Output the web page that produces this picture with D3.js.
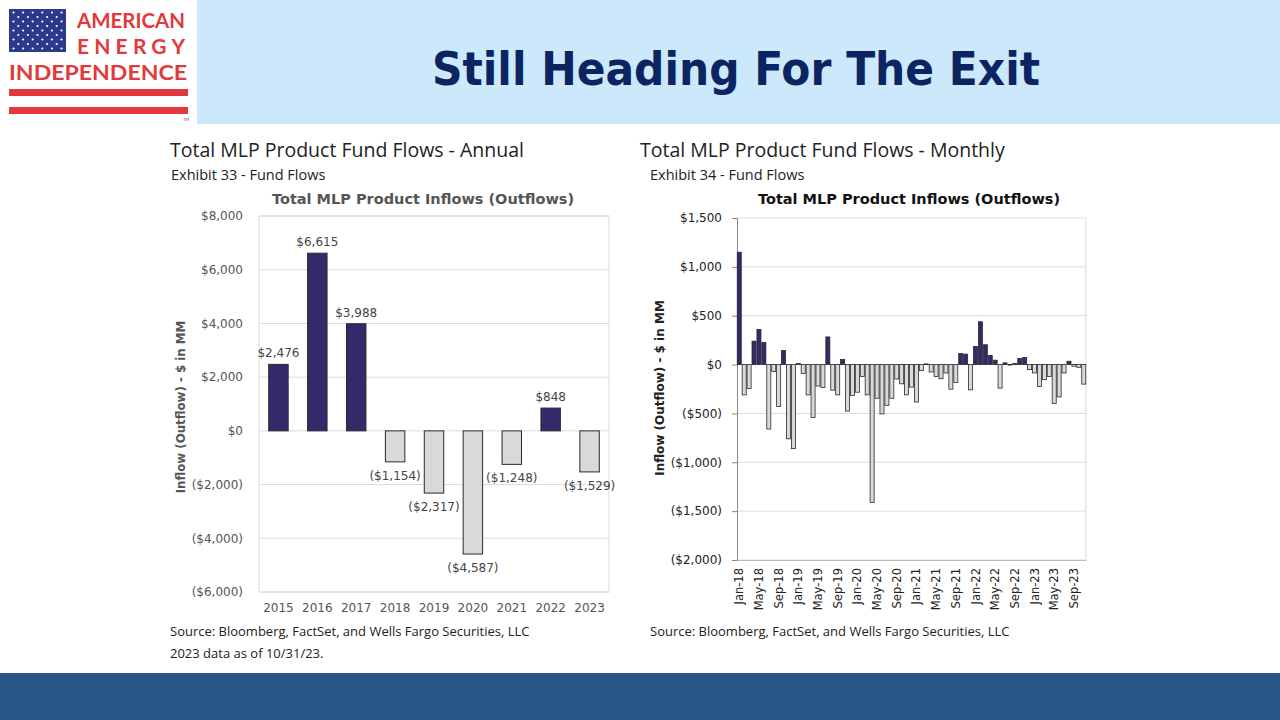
<!DOCTYPE html>
<html><head><meta charset="utf-8">
<script src="https://cdn.jsdelivr.net/npm/d3@7/dist/d3.min.js"></script>
<style>
html,body{margin:0;padding:0;background:#fff;}
svg{display:block;}
</style></head>
<body>
<svg id="chart" width="1280" height="720"></svg>
<script>
// ---------- DATA ----------
const years = ["2015","2016","2017","2018","2019","2020","2021","2022","2023"];
const annualFlows = [2476, 6615, 3988, -1154, -2317, -4587, -1248, 848, -1529];
const annualTicks = [-6000, -4000, -2000, 0, 2000, 4000, 6000, 8000];

const monthStart = new Date(2018, 0, 1);
const monthlyFlows = [
  1150, -310, -245, 240, 360, 225, -660, -70, -430, 145, -760, -860,
  10, -90, -310, -540, -220, -235, 283, -262, -310, 52, -476, -317,
  -283, -121, -310, -1410, -345, -505, -417, -345, -148, -197, -310, -231,
  -383, -62, 7, -76, -121, -145, -86, -252, -183, 114, 107, -259,
  186, 438, 203, 93, 45, -241, 17, -5, 10, 62, 72, -52,
  -86, -224, -155, -121, -397, -331, -86, 34, -17, -28, -200
];
const monthlyTicks = [-2000, -1500, -1000, -500, 0, 500, 1000, 1500];
const monthTickLabels = ["Jan-18","May-18","Sep-18","Jan-19","May-19","Sep-19","Jan-20","May-20","Sep-20",
  "Jan-21","May-21","Sep-21","Jan-22","May-22","Sep-22","Jan-23","May-23","Sep-23"];

// ---------- STYLE ----------
const NAVY = "#33296b", GREYBAR = "#d9d9d9", OUTLINE = "#2a2a2a", GRID = "#dcdcdc";
const fmtMoney = v => v < 0 ? "($" + d3.format(",")(-v) + ")" : "$" + d3.format(",")(v);

const svg = d3.select("#chart");

// ---------- HEADER ----------
svg.append("rect").attr("x", 197).attr("y", 0).attr("width", 1083).attr("height", 124).attr("fill", "#cce9fc");
svg.append("rect").attr("x", 0).attr("y", 673).attr("width", 1280).attr("height", 47).attr("fill", "#285686");
svg.append("text").attr("x", 736).attr("y", 85).attr("text-anchor", "middle")
  .attr("font-family", "DejaVu Sans Condensed, DejaVu Sans").attr("font-weight", "bold")
  .attr("font-size", 47).attr("fill", "#0c2461")
  .attr("textLength", 608).attr("lengthAdjust", "spacingAndGlyphs")
  .text("Still Heading For The Exit");

// logo
const logo = svg.append("g");
logo.append("rect").attr("x", 9).attr("y", 9).attr("width", 57).attr("height", 43).attr("fill", "#2c3a8e");
for (let r = 0; r < 9; r++) {
  const n = r % 2 === 0 ? 6 : 5;
  for (let c = 0; c < n; c++) {
    logo.append("circle")
      .attr("cx", 13.5 + c * 9.6 + (r % 2 ? 4.8 : 0))
      .attr("cy", 12.5 + r * 4.5).attr("r", 1.1).attr("fill", "#fff");
  }
}
const RED = "#e1393e";
logo.append("text").attr("x", 77).attr("y", 28).attr("font-family", "Lato").attr("font-weight", "bold")
  .attr("font-size", 21).attr("fill", RED).attr("textLength", 108).attr("lengthAdjust", "spacingAndGlyphs").text("AMERICAN");
logo.append("text").attr("x", 77).attr("y", 54).attr("font-family", "Lato").attr("font-weight", "bold")
  .attr("font-size", 21).attr("fill", RED).attr("textLength", 108).attr("lengthAdjust", "spacing").text("ENERGY");
logo.append("text").attr("x", 9).attr("y", 80).attr("font-family", "Lato").attr("font-weight", "bold")
  .attr("font-size", 21).attr("fill", RED).attr("textLength", 178).attr("lengthAdjust", "spacingAndGlyphs").text("INDEPENDENCE");
logo.append("rect").attr("x", 9).attr("y", 89).attr("width", 179).attr("height", 7).attr("fill", RED);
logo.append("rect").attr("x", 9).attr("y", 107).attr("width", 179).attr("height", 7).attr("fill", RED);
logo.append("text").attr("x", 183).attr("y", 121).attr("font-family", "Lato").attr("font-size", 4).attr("fill", "#555").text("TM");

// ---------- TEXT BLOCKS ----------
function txt(x, y, s, size, color, opts = {}) {
  return svg.append("text").attr("x", x).attr("y", y)
    .attr("font-family", opts.family || "Open Sans")
    .attr("font-size", size).attr("fill", color)
    .attr("font-weight", opts.weight || "normal")
    .attr("text-anchor", opts.anchor || "start").text(s);
}
txt(170, 157, "Total MLP Product Fund Flows - Annual", 19.5, "#222");
txt(171, 180, "Exhibit 33 - Fund Flows", 14.5, "#222");
txt(640, 157, "Total MLP Product Fund Flows - Monthly", 19.5, "#222");
txt(650, 180, "Exhibit 34 - Fund Flows", 14.5, "#222");
txt(170, 636, "Source: Bloomberg, FactSet, and Wells Fargo Securities, LLC", 13, "#222");
txt(170, 658, "2023 data as of 10/31/23.", 13, "#222");
txt(650, 636, "Source: Bloomberg, FactSet, and Wells Fargo Securities, LLC", 13, "#222");

// ---------- ANNUAL CHART ----------
(function () {
  const L = 259, R = 609, T = 216, B = 592;
  const x = d3.scaleBand().domain(years).range([L, R]).paddingInner(0.5).paddingOuter(0.25);
  const y = d3.scaleLinear().domain([-6000, 8000]).range([B, T]);
  const g = svg.append("g");

  g.append("g").selectAll("line").data(annualTicks).join("line")
    .attr("x1", L).attr("x2", R).attr("y1", d => y(d)).attr("y2", d => y(d))
    .attr("stroke", GRID).attr("stroke-width", 1);
  g.append("rect").attr("x", L).attr("y", T).attr("width", R - L).attr("height", B - T)
    .attr("fill", "none").attr("stroke", GRID);

  const yAxis = d3.axisLeft(y).tickValues(annualTicks).tickSize(0).tickPadding(16).tickFormat(fmtMoney);
  const ya = g.append("g").attr("transform", `translate(${L},0)`).call(yAxis);
  ya.select(".domain").remove();
  ya.selectAll("text").attr("font-family", "DejaVu Sans").attr("font-size", 12).attr("fill", "#555");

  const xAxis = d3.axisBottom(x).tickSize(0).tickPadding(11);
  const xa = g.append("g").attr("transform", `translate(0,${B})`).call(xAxis);
  xa.select(".domain").remove();
  xa.selectAll("text").attr("font-family", "DejaVu Sans").attr("font-size", 12).attr("fill", "#555");

  g.selectAll("rect.bar").data(annualFlows).join("rect").attr("class", "bar")
    .attr("x", (d, i) => x(years[i])).attr("width", x.bandwidth())
    .attr("y", d => y(Math.max(0, d))).attr("height", d => Math.abs(y(d) - y(0)))
    .attr("fill", d => d >= 0 ? NAVY : GREYBAR).attr("stroke", OUTLINE).attr("stroke-width", 1);

  g.selectAll("text.val").data(annualFlows).join("text").attr("class", "val")
    .attr("x", (d, i) => x(years[i]) + x.bandwidth() / 2)
    .attr("y", d => d >= 0 ? y(d) - 7 : y(d) + 18)
    .attr("text-anchor", "middle").attr("font-family", "DejaVu Sans").attr("font-size", 12).attr("fill", "#444")
    .text(fmtMoney);

  g.append("text").attr("x", 423).attr("y", 204).attr("text-anchor", "middle")
    .attr("font-family", "DejaVu Sans").attr("font-weight", "bold").attr("font-size", 14.5).attr("fill", "#555")
    .text("Total MLP Product Inflows (Outflows)");
  g.append("text").attr("transform", "translate(185,407) rotate(-90)").attr("text-anchor", "middle")
    .attr("font-family", "DejaVu Sans").attr("font-weight", "bold").attr("font-size", 11.8).attr("fill", "#555")
    .text("Inflow (Outflow) - $ in MM");
})();

// ---------- MONTHLY CHART ----------
(function () {
  const L = 737, R = 1086, T = 218, B = 560;
  const months = monthlyFlows.map((d, i) => d3.timeMonth.offset(monthStart, i));
  const fmtMonth = d3.timeFormat("%b-%y");
  const x = d3.scaleBand().domain(months.map(fmtMonth)).range([L, R]).paddingInner(0.18).paddingOuter(0.05);
  const y = d3.scaleLinear().domain([-2000, 1500]).range([B, T]);
  const g = svg.append("g");

  g.append("g").selectAll("line").data(monthlyTicks).join("line")
    .attr("x1", L).attr("x2", R).attr("y1", d => y(d)).attr("y2", d => y(d))
    .attr("stroke", GRID).attr("stroke-width", 1);
  g.append("line").attr("x1", R).attr("x2", R).attr("y1", T).attr("y2", B).attr("stroke", GRID);

  const yAxis = d3.axisLeft(y).tickValues(monthlyTicks).tickSize(5).tickPadding(10).tickFormat(fmtMoney);
  const ya = g.append("g").attr("transform", `translate(${L},0)`).call(yAxis);
  ya.select(".domain").attr("stroke", "#888");
  ya.selectAll(".tick line").attr("stroke", "#888");
  ya.selectAll("text").attr("font-family", "DejaVu Sans").attr("font-size", 12).attr("fill", "#222");

  const xAxis = d3.axisBottom(x).tickValues(monthTickLabels).tickSize(0).tickPadding(0);
  const xa = g.append("g").attr("transform", `translate(0,${B})`).call(xAxis);
  xa.select(".domain").attr("stroke", "#bbb");
  xa.selectAll("text").attr("font-family", "DejaVu Sans").attr("font-size", 11.5).attr("fill", "#222")
    .attr("transform", "rotate(-90)").attr("text-anchor", "end")
    .attr("x", -8).attr("y", 0).attr("dy", "0.35em");

  g.selectAll("rect.bar").data(monthlyFlows).join("rect").attr("class", "bar")
    .attr("x", (d, i) => x(fmtMonth(months[i]))).attr("width", x.bandwidth())
    .attr("y", d => y(Math.max(0, d))).attr("height", d => Math.max(0.5, Math.abs(y(d) - y(0))))
    .attr("fill", d => d >= 0 ? NAVY : GREYBAR).attr("stroke", OUTLINE).attr("stroke-width", 0.8);

  g.append("text").attr("x", 909).attr("y", 204).attr("text-anchor", "middle")
    .attr("font-family", "DejaVu Sans").attr("font-weight", "bold").attr("font-size", 14.5).attr("fill", "#111")
    .text("Total MLP Product Inflows (Outflows)");
  g.append("text").attr("transform", "translate(664,388) rotate(-90)").attr("text-anchor", "middle")
    .attr("font-family", "DejaVu Sans").attr("font-weight", "bold").attr("font-size", 12).attr("fill", "#222")
    .text("Inflow (Outflow) - $ in MM");
})();
</script>
</body></html>
